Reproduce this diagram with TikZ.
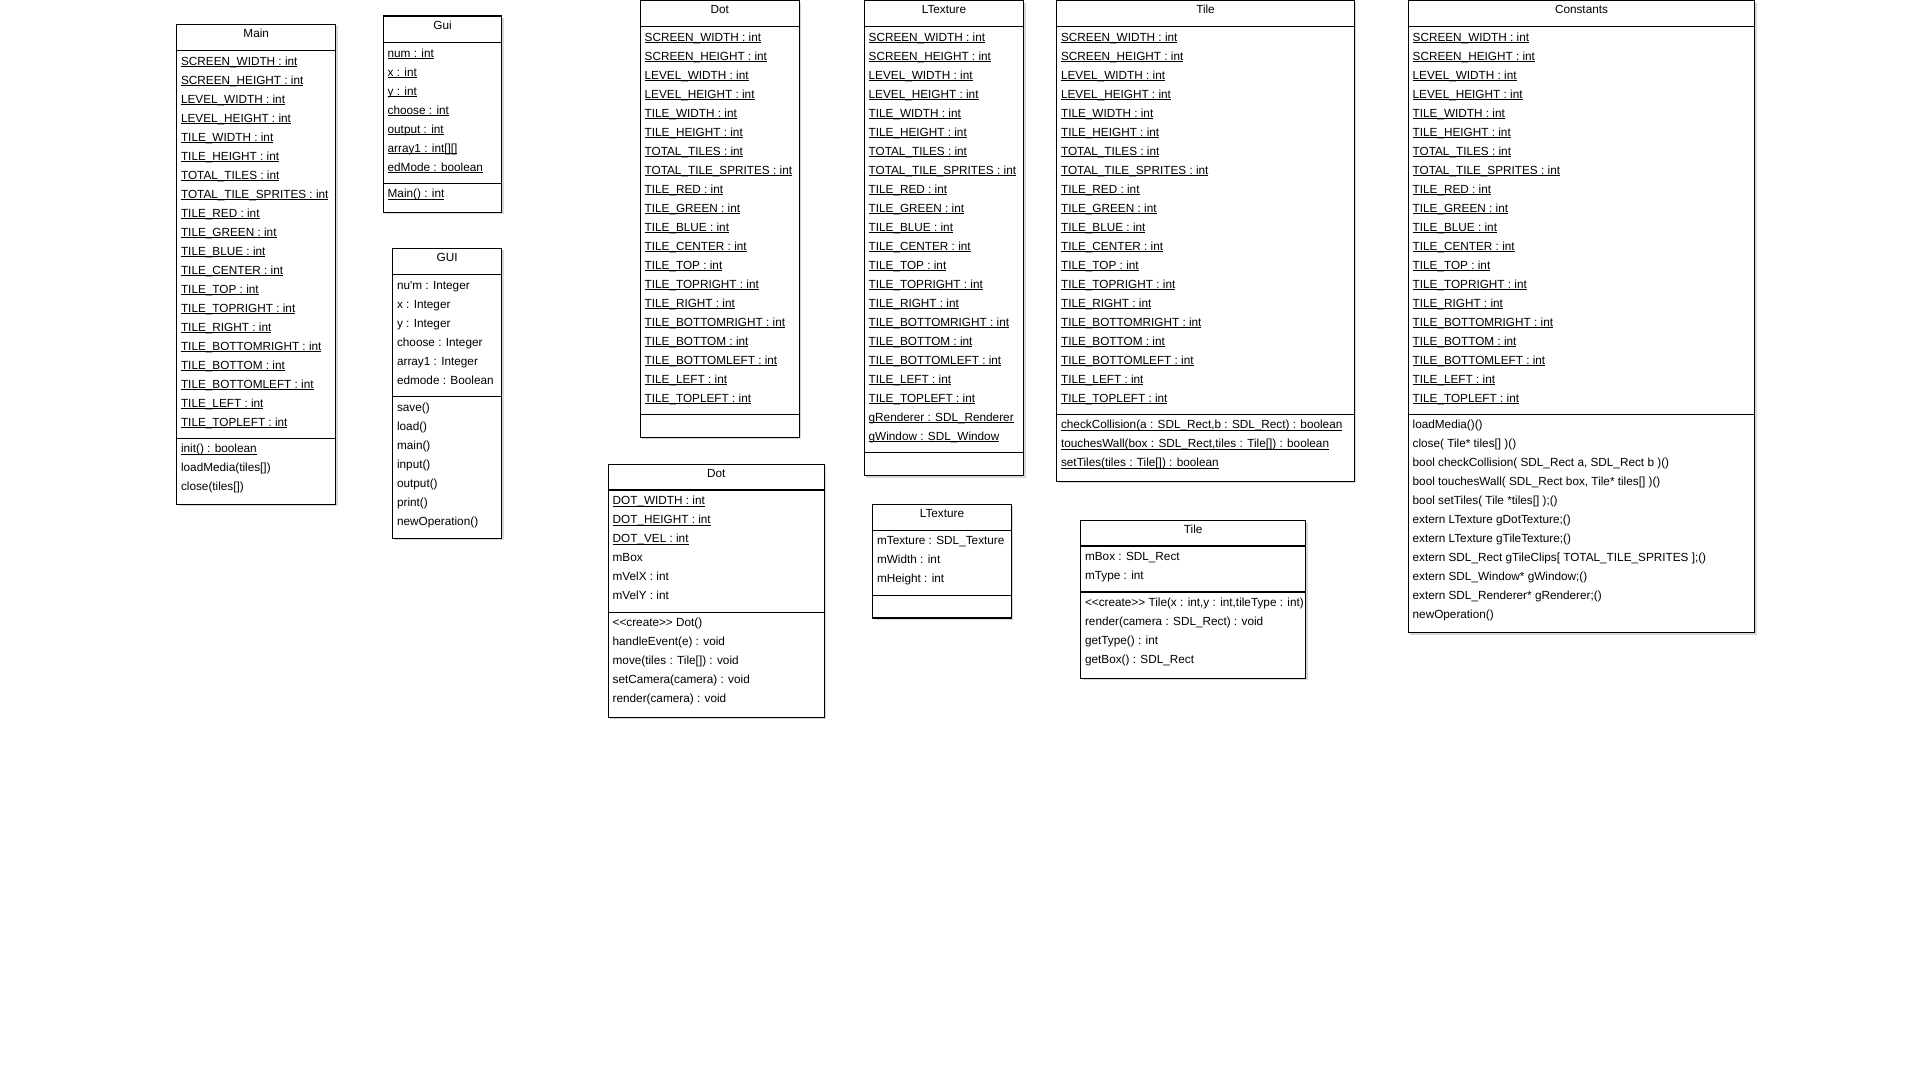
\documentclass[tikz,border=0pt]{standalone}
\usepackage{fontspec}
\setmainfont{Liberation Sans}
\usetikzlibrary{shadows}

\newcommand{\umlfont}{\fontsize{6.7}{8}\selectfont}
\newcommand{\ulrow}[1]{\setbox0=\hbox{#1}\rlap{\rule[-1.2pt]{\wd0}{0.45pt}}\box0}
\newcommand{\create}{<\kern0pt<create>\kern0pt>}
\newcommand{\constrows}{SCREEN\_WIDTH : int, SCREEN\_HEIGHT : int, LEVEL\_WIDTH : int, LEVEL\_HEIGHT : int, TILE\_WIDTH : int, TILE\_HEIGHT : int, TOTAL\_TILES : int, TOTAL\_TILE\_SPRITES : int, TILE\_RED : int, TILE\_GREEN : int, TILE\_BLUE : int, TILE\_CENTER : int, TILE\_TOP : int, TILE\_TOPRIGHT : int, TILE\_RIGHT : int, TILE\_BOTTOMRIGHT : int, TILE\_BOTTOM : int, TILE\_BOTTOMLEFT : int, TILE\_LEFT : int, TILE\_TOPLEFT : int}

\tikzset{
  classbox/.style={draw, line width=0.6pt, fill=white, anchor=north west, inner sep=0pt, outer sep=0pt,
    drop shadow={shadow xshift=0.04cm, shadow yshift=-0.04cm, opacity=0.3}},
  classname/.style={anchor=base, inner sep=0pt, font=\umlfont},
  row/.style={anchor=base west, inner sep=0pt, font=\umlfont},
  sep/.style={line width=0.6pt}
}

\begin{document}
\begin{tikzpicture}[x=0.02cm, y=-0.02cm]
\path[use as bounding box, fill=white] (0,0) rectangle (1930,1069);

% Main
\node[classbox, minimum width=3.18cm, minimum height=9.6cm] (main) at (176.7,24.3) {};
\node[classname] (main-name) at (256.2,37.3) {Main};
\draw[sep] (176.7,50.7) -- (335.7,50.7);
\draw[sep] (176.7,438.3) -- (335.7,438.3);
\foreach \t [count=\i] in \constrows
  \node[row] (main-a\i) at (180.7,{50.7+14.3+19*(\i-1)}) {\ulrow{\t}};
\node[row] (main-m1) at (180.7,452.6) {\ulrow{init() : boolean}};
\node[row] (main-m2) at (180.7,471.6) {loadMedia(tiles[])};
\node[row] (main-m3) at (180.7,490.6) {close(tiles[])};

% Gui
\node[classbox, minimum width=2.368cm, minimum height=3.926cm] (gui) at (383.3,16) {};
\node[classname] (gui-name) at (442.5,29) {Gui};
\draw[sep] (383.3,42.7) -- (501.7,42.7);
\draw[sep] (383.3,183.3) -- (501.7,183.3);
\foreach \t [count=\i] in {num : int, x : int, y : int, choose : int, output : int, array1 : int[][], edMode : boolean}
  \node[row] (gui-a\i) at (387.3,{42.7+14.3+19*(\i-1)}) {\ulrow{\t}};
\node[row] (gui-m1) at (387.3,197.6) {\ulrow{Main() : int}};

% GUI
\node[classbox, minimum width=2.18cm, minimum height=5.8cm] (GUI) at (392.7,248.3) {};
\node[classname] (GUI-name) at (447.2,261.3) {GUI};
\draw[sep] (392.7,274.7) -- (501.7,274.7);
\draw[sep] (392.7,396.7) -- (501.7,396.7);
\foreach \t [count=\i] in {nu\textquotesingle m : Integer, x : Integer, y : Integer, choose : Integer, array1 : Integer, edmode : Boolean}
  \node[row] (GUI-a\i) at (396.7,{274.7+14.3+19*(\i-1)}) {\t};
\foreach \t [count=\i] in {save(), load(), main(), input(), output(), print(), newOperation()}
  \node[row] (GUI-m\i) at (396.7,{396.7+14.3+19*(\i-1)}) {\t};

% Dot (constants)
\node[classbox, minimum width=3.18cm, minimum height=8.734cm] (dot) at (640.3,0.6) {};
\node[classname] (dot-name) at (719.8,13.6) {Dot};
\draw[sep] (640.3,26.7) -- (799.3,26.7);
\draw[sep] (640.3,414.3) -- (799.3,414.3);
\foreach \t [count=\i] in \constrows
  \node[row] (dot-a\i) at (644.3,{26.7+14.3+19*(\i-1)}) {\ulrow{\t}};

% LTexture (constants)
\node[classbox, minimum width=3.188cm, minimum height=9.508cm] (ltex) at (864.3,0.6) {};
\node[classname] (ltex-name) at (944,13.6) {LTexture};
\draw[sep] (864.3,26.7) -- (1023.7,26.7);
\draw[sep] (864.3,452.3) -- (1023.7,452.3);
\foreach \t [count=\i] in \constrows
  \node[row] (ltex-a\i) at (868.3,{26.7+14.3+19*(\i-1)}) {\ulrow{\t}};
\node[row] (ltex-a21) at (868.3,421) {\ulrow{gRenderer : SDL\_Renderer}};
\node[row] (ltex-a22) at (868.3,440) {\ulrow{gWindow : SDL\_Window}};

% Tile (constants)
\node[classbox, minimum width=5.952cm, minimum height=9.614cm] (tile) at (1056.7,0.6) {};
\node[classname] (tile-name) at (1205.5,13.6) {Tile};
\draw[sep] (1056.7,26.7) -- (1354.3,26.7);
\draw[sep] (1056.7,414.3) -- (1354.3,414.3);
\foreach \t [count=\i] in \constrows
  \node[row] (tile-a\i) at (1060.7,{26.7+14.3+19*(\i-1)}) {\ulrow{\t}};
\foreach \t [count=\i] in {{checkCollision(a : SDL\_Rect,b : SDL\_Rect) : boolean}, {touchesWall(box : SDL\_Rect,tiles : Tile[]) : boolean}, setTiles(tiles : Tile[]) : boolean}
  \node[row] (tile-m\i) at (1060.7,{414.3+14.3+19*(\i-1)}) {\ulrow{\t}};

% Constants
\node[classbox, minimum width=6.928cm, minimum height=12.642cm] (const) at (1408.3,0.6) {};
\node[classname] (const-name) at (1581.5,13.6) {Constants};
\draw[sep] (1408.3,26.7) -- (1754.7,26.7);
\draw[sep] (1408.3,414.3) -- (1754.7,414.3);
\foreach \t [count=\i] in \constrows
  \node[row] (const-a\i) at (1412.3,{26.7+14.3+19*(\i-1)}) {\ulrow{\t}};
\foreach \t [count=\i] in {loadMedia()(), close( Tile* tiles[] )(), {bool checkCollision( SDL\_Rect a, SDL\_Rect b )()}, {bool touchesWall( SDL\_Rect box, Tile* tiles[] )()}, bool setTiles( Tile *tiles[] );(), extern LTexture gDotTexture;(), extern LTexture gTileTexture;(), extern SDL\_Rect gTileClips[ TOTAL\_TILE\_SPRITES ];(), extern SDL\_Window* gWindow;(), extern SDL\_Renderer* gRenderer;(), newOperation()}
  \node[row] (const-m\i) at (1412.3,{414.3+14.3+19*(\i-1)}) {\t};

% Dot
\node[classbox, minimum width=4.32cm, minimum height=5.06cm] (dot2) at (608.3,464.3) {};
\node[classname] (dot2-name) at (716.3,477.3) {Dot};
\draw[sep] (608.3,490) -- (824.3,490);
\draw[sep] (608.3,612.3) -- (824.3,612.3);
\foreach \t [count=\i] in {DOT\_WIDTH : int, DOT\_HEIGHT : int, DOT\_VEL : int}
  \node[row] (dot2-a\i) at (612.3,{490+14.3+19*(\i-1)}) {\ulrow{\t}};
\foreach \t [count=\i from 4] in {mBox, mVelX : int, mVelY : int}
  \node[row] (dot2-a\i) at (612.3,{490+14.3+19*(\i-1)}) {\t};
\foreach \t [count=\i] in {\create{} Dot(), handleEvent(e) : void, move(tiles : Tile[]) : void, setCamera(camera) : void, render(camera) : void}
  \node[row] (dot2-m\i) at (612.3,{612.3+14.3+19*(\i-1)}) {\t};

% LTexture
\node[classbox, minimum width=2.772cm, minimum height=2.274cm] (ltex2) at (872.7,504.3) {};
\node[classname] (ltex2-name) at (942,517.3) {LTexture};
\draw[sep] (872.7,530.3) -- (1011.3,530.3);
\draw[sep] (872.7,595.3) -- (1011.3,595.3);
\foreach \t [count=\i] in {mTexture : SDL\_Texture, mWidth : int, mHeight : int}
  \node[row] (ltex2-a\i) at (876.7,{530.3+14.3+19*(\i-1)}) {\t};

% Tile
\node[classbox, minimum width=4.5cm, minimum height=3.152cm] (tile2) at (1080.7,520.7) {};
\node[classname] (tile2-name) at (1193.2,533.7) {Tile};
\draw[sep] (1080.7,546) -- (1305.7,546);
\draw[sep] (1080.7,592) -- (1305.7,592);
\foreach \t [count=\i] in {mBox : SDL\_Rect, mType : int}
  \node[row] (tile2-a\i) at (1084.7,{546+14.3+19*(\i-1)}) {\t};
\foreach \t [count=\i] in {{\create{} Tile(x : int,y : int,tileType : int)}, render(camera : SDL\_Rect) : void, getType() : int, getBox() : SDL\_Rect}
  \node[row] (tile2-m\i) at (1084.7,{592+14.3+19*(\i-1)}) {\t};
\end{tikzpicture}
\end{document}
